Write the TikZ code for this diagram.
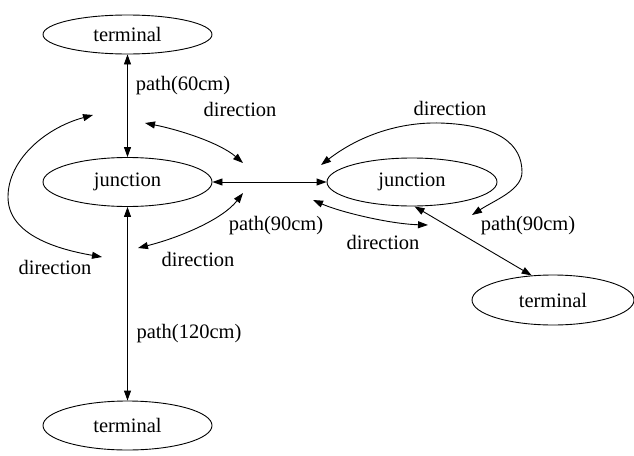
\documentclass[tikz,border=0pt]{standalone}
\usepackage{fontspec}
\setmainfont{Liberation Serif}
\usetikzlibrary{shapes.geometric,arrows.meta}
\tikzset{
  nodeell/.style={draw, ellipse, inner sep=0pt, line width=0.9pt},
  lbl/.style={inner sep=0pt},
  conn/.style={line width=0.9pt, {Triangle[length=10pt,width=7pt]}-{Triangle[length=10pt,width=7pt]}}
}
\begin{document}
\begin{tikzpicture}[x=1pt,y=-1pt,font=\fontsize{20.5}{24}\selectfont]
\useasboundingbox (0,0) rectangle (634,455);
% nodes
\node[nodeell, minimum width=169pt, minimum height=39pt] (t1) at (127.5,34.5) {terminal};
\node[nodeell, minimum width=169pt, minimum height=49pt] (j1) at (127.5,182) {junction};
\node[nodeell, minimum width=169pt, minimum height=49pt] (t3) at (127.5,425.5) {terminal};
\node[nodeell, minimum width=170pt, minimum height=48pt] (j2) at (412,182) {junction};
\node[nodeell, minimum width=162pt, minimum height=50pt] (t2) at (553,300) {terminal};
% edge labels
\node[lbl] (l1) at (183,86) {path(60cm)};
\node[lbl] (l2) at (189,334) {path(120cm)};
\node[lbl] (l3) at (276,226) {path(90cm)};
\node[lbl] (l4) at (528,226) {path(90cm)};
\node[lbl] (d1) at (240,109) {direction};
\node[lbl] (d2) at (55,267) {direction};
\node[lbl] (d3) at (198,259) {direction};
\node[lbl] (d4) at (450,108) {direction};
\node[lbl] (d5) at (383,242) {direction};
% straight edges
\draw[conn] (t1) -- (j1);
\draw[conn] (j1) -- (t3);
\draw[conn] (j1.east) -- (j2.west);
\draw[conn] (j2.276) -- (t2.131);
% direction curve end points
\coordinate (a1) at (145,123);
\coordinate (a2) at (243,163);
\coordinate (b1) at (93,115);
\coordinate (b2) at (102,257);
\coordinate (c1) at (243,193);
\coordinate (c2) at (138,248);
\coordinate (e1) at (321,165);
\coordinate (e2) at (472,215);
\coordinate (f1) at (313,200);
\coordinate (f2) at (428,225);
% direction curves
\draw[conn] (a1) .. controls (180,130) and (220,143) .. (a2);
\draw[conn] (b1) .. controls (45,128) and (8,160) .. (8,197) .. controls (8,232) and (50,248) .. (b2);
\draw[conn] (c1) .. controls (222,220) and (178,238) .. (c2);
\draw[conn] (e1) .. controls (360,135) and (400,122) .. (440,123) .. controls (500,125) and (522,145) .. (522,172) .. controls (522,190) and (495,200) .. (e2);
\draw[conn] (f1) .. controls (340,212) and (390,224) .. (f2);
\end{tikzpicture}
\end{document}
